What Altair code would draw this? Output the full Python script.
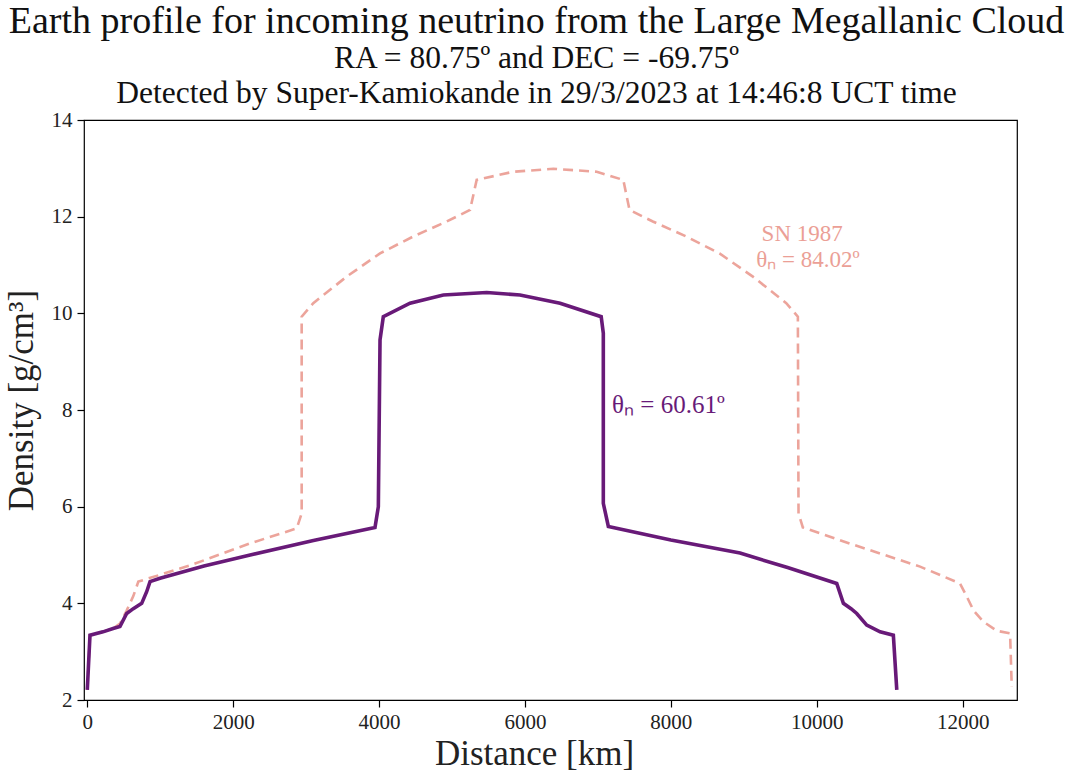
import altair as alt
import pandas as pd

# Density along the neutrino chord, PREM-like profile (distance in km, density in g/cm^3)
lmc_x = [0, 37, 215, 354, 448, 540, 631, 746, 814, 860, 997, 1600, 2233, 3100, 3944,
         3990, 4013, 4058, 4424, 4881, 5476, 5932, 6481, 7045, 7074, 7074, 7143, 8000,
         8948, 9600, 10274, 10365, 10470, 10548, 10685, 10868, 11050, 11097]
lmc_y = [2.21, 3.34, 3.41, 3.48, 3.52, 3.79, 3.89, 4.00, 4.24, 4.45, 4.52, 4.77, 5.00, 5.30, 5.57,
         6.00, 9.45, 9.93, 10.21, 10.38, 10.43, 10.38, 10.21, 9.93, 9.59, 6.07, 5.59, 5.31,
         5.04, 4.74, 4.41, 4.00, 3.89, 3.79, 3.55, 3.41, 3.34, 2.21]

sn_x = [0, 37, 215, 354, 448, 540, 631, 700, 1400, 2231, 2871, 2939, 2939, 3098, 3556,
        4013, 4469, 4927, 5247, 5338, 5840, 6389, 6984, 7348, 7433, 7753, 8211, 8667,
        9124, 9582, 9741, 9750, 9809, 10449, 11416, 11964, 12056, 12150, 12284, 12470, 12650, 12673]
sn_y = [2.21, 3.34, 3.41, 3.48, 3.58, 3.85, 4.15, 4.45, 4.78, 5.24, 5.55, 5.86, 9.93, 10.21, 10.76,
        11.24, 11.59, 11.90, 12.14, 12.76, 12.93, 12.99, 12.93, 12.76, 12.14, 11.90, 11.59, 11.24,
        10.76, 10.21, 9.93, 5.86, 5.57, 5.24, 4.76, 4.41, 4.14, 3.85, 3.62, 3.43, 3.38, 2.27]

x_ticks = [0, 2000, 4000, 6000, 8000, 10000, 12000]
y_ticks = [2, 4, 6, 8, 10, 12, 14]

SERIF = "Liberation Serif"
PURPLE = "#681a78"
SALMON = "#eb9f96"

lmc = pd.DataFrame({"d": lmc_x, "rho": lmc_y, "i": range(len(lmc_x))})
sn = pd.DataFrame({"d": sn_x, "rho": sn_y, "i": range(len(sn_x))})

xs = alt.Scale(domain=[-45, 12745], nice=False, zero=False)
ys = alt.Scale(domain=[2, 14], nice=False, zero=False)

x_axis = alt.Axis(values=x_ticks, format="d", title="Distance [km]", titleX=450, titleAlign="center")
y_axis = alt.Axis(values=y_ticks, format="d", title="Density [g/cm³]", titleY=280, titleAlign="center")

sn_line = alt.Chart(sn).mark_line(
    color=SALMON, strokeWidth=2.6, strokeDash=[10, 6], opacity=0.95
).encode(
    x=alt.X("d:Q", scale=xs, axis=x_axis),
    y=alt.Y("rho:Q", scale=ys, axis=y_axis),
    order="i:Q",
)

lmc_line = alt.Chart(lmc).mark_line(color=PURPLE, strokeWidth=3.6).encode(
    x="d:Q", y="rho:Q", order="i:Q"
)

labels = pd.DataFrame({
    "d": [7194, 9800, 9880],
    "rho": [8.10, 11.64, 11.10],
    "t": ["θₙ = 60.61º", "SN 1987", "θₙ = 84.02º"],
})

lmc_label = alt.Chart(labels.iloc[[0]]).mark_text(
    font=SERIF, fontSize=25, align="left", baseline="middle", color=PURPLE
).encode(x="d:Q", y="rho:Q", text="t:N")

sn_label = alt.Chart(labels.iloc[[1, 2]]).mark_text(
    font=SERIF, fontSize=23, align="center", baseline="middle", color=SALMON
).encode(x="d:Q", y="rho:Q", text="t:N")

chart = alt.layer(sn_line, lmc_line, lmc_label, sn_label).properties(
    width=933,
    height=580,
    autosize=alt.AutoSizeParams(type="none"),
    padding={"left": 84, "top": 120, "right": 56, "bottom": 73},
    title=alt.TitleParams(
        text="Earth profile for incoming neutrino from the Large Megallanic Cloud",
        subtitle=["RA = 80.75º and DEC = -69.75º",
                  "Detected by Super-Kamiokande in 29/3/2023 at 14:46:8 UCT time"],
        font=SERIF, fontSize=38, fontWeight="normal", color="#111",
        subtitleFont=SERIF, subtitleFontSize=31.5, subtitleColor="#111",
        subtitlePadding=2, subtitleLineHeight=35,
        anchor="middle", dx=-14, offset=0,
    ),
).configure_view(
    stroke="black", strokeWidth=1.2
).configure_axis(
    grid=False, domain=False,
    ticks=True, tickSize=7, tickColor="black", tickWidth=1.2,
    labelFont=SERIF, labelFontSize=21, labelColor="#222",
    titleFont=SERIF, titleFontSize=35, titleFontWeight="normal", titleColor="#222",
).configure_axisX(
    labelPadding=4, titlePadding=4
).configure_axisY(
    labelPadding=5, titlePadding=12
)

chart.save("out.html", embed_options={"renderer": "svg", "actions": False})
